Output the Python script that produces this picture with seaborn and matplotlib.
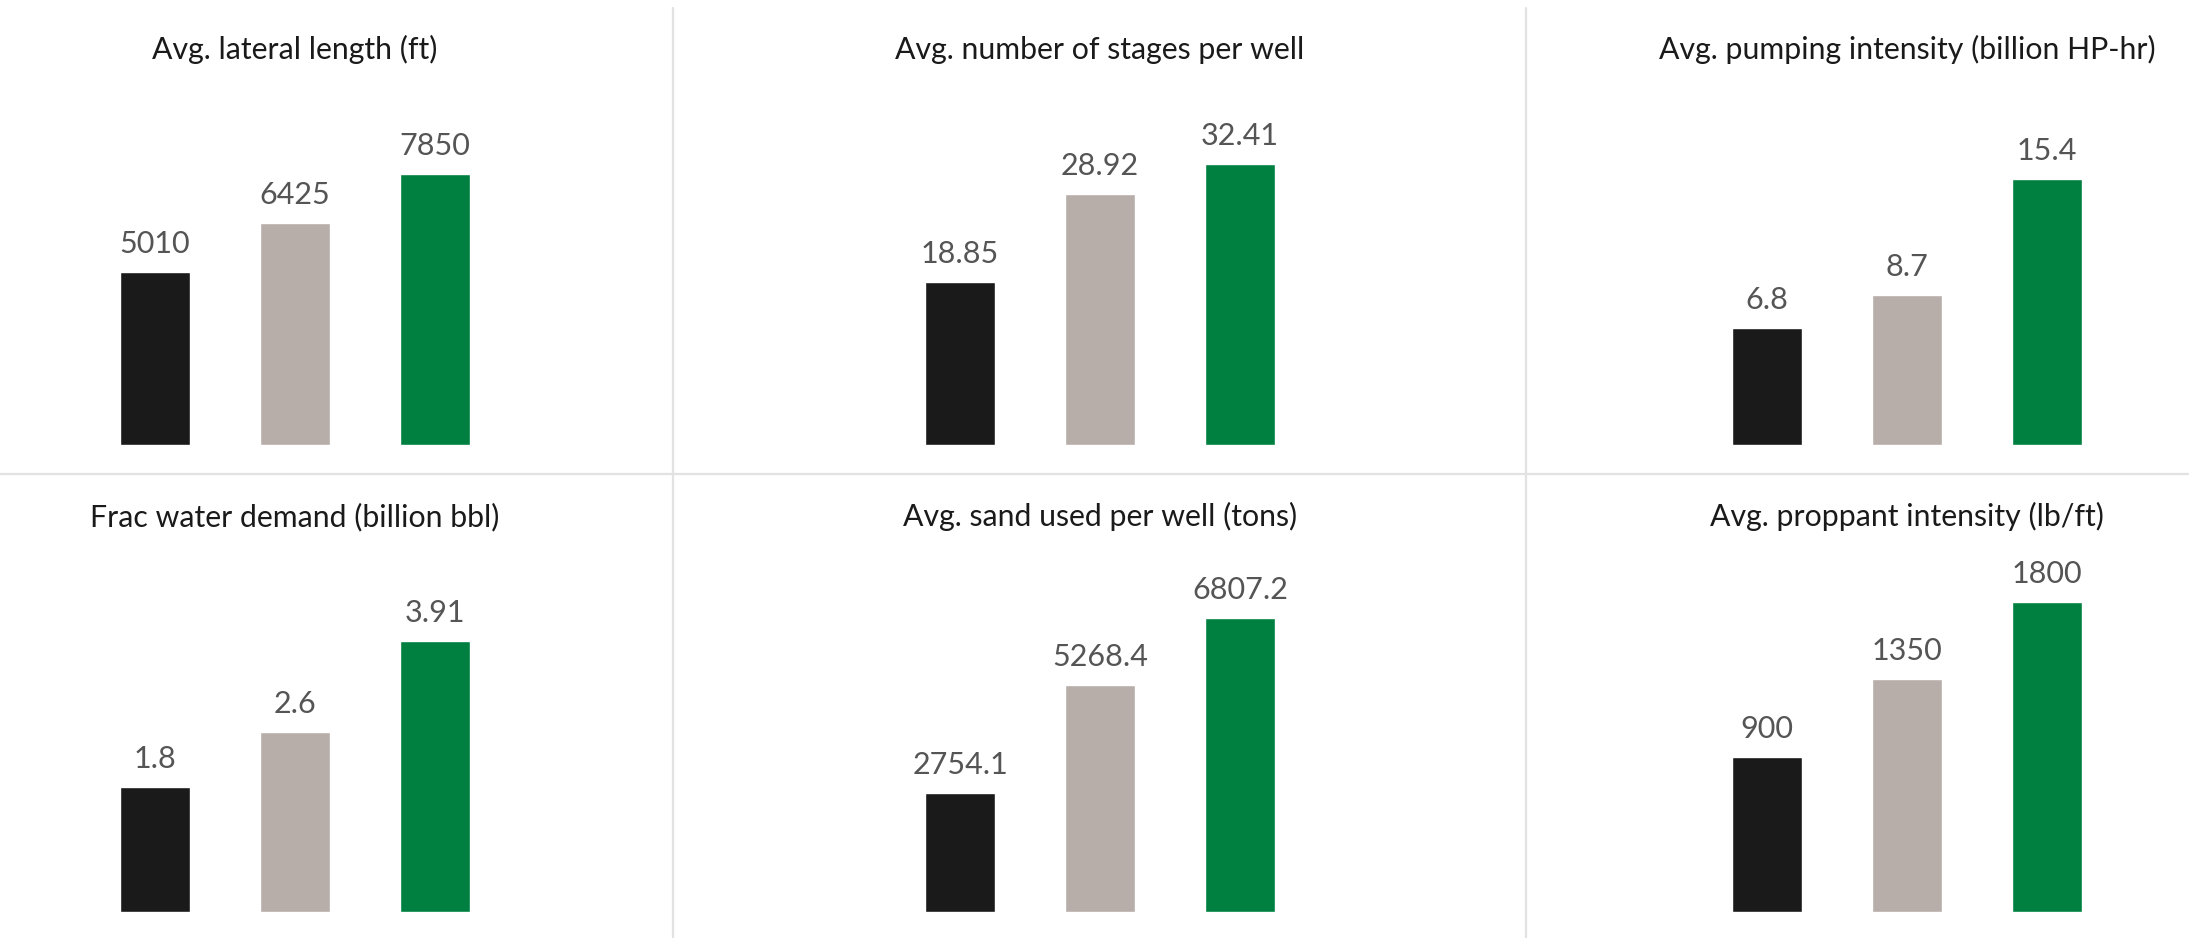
import matplotlib
matplotlib.use("Agg")
import matplotlib.pyplot as plt
from matplotlib.lines import Line2D
import pandas as pd
import seaborn as sns

# ---- data -------------------------------------------------------------
groups = ["Group A", "Group B", "Group C"]

titles = [
    "Avg. lateral length (ft)",
    "Avg. number of stages per well",
    "Avg. pumping intensity (billion HP-hr)",
    "Frac water demand (billion bbl)",
    "Avg. sand used per well (tons)",
    "Avg. proppant intensity (lb/ft)",
]

lateral_length = [5010, 6425, 7850]
stages_per_well = [18.85, 28.92, 32.41]
pumping_intensity = [6.8, 8.7, 15.4]
frac_water_demand = [1.8, 2.6, 3.91]
sand_per_well = [2754.1, 5268.4, 6807.2]
proppant_intensity = [900, 1350, 1800]

panel_values = [
    lateral_length, stages_per_well, pumping_intensity,
    frac_water_demand, sand_per_well, proppant_intensity,
]

# ---- style --------------------------------------------------------------
palette = ["#1a1a1a", "#b7aeaa", "#008040"]
y_limits = [10283, 40.95, 20.59, 5.122, 8233, 2061]

sns.set_theme(style="white")
plt.rcParams["font.family"] = ["Lato", "DejaVu Sans"]

W, H = 2199, 938
fig = plt.figure(figsize=(W / 100, H / 100), dpi=100)

col_centers = [295, 1100, 1907]   # pixel x of the middle bar in each column
row_bases = [445, 912]            # pixel y of the bar baseline in each row
title_baselines = [59, 526]
axes_w, axes_h = 420, 355

for i, (title, vals) in enumerate(zip(titles, panel_values)):
    r, c = divmod(i, 3)
    cx, base = col_centers[c], row_bases[r]
    ax = fig.add_axes([(cx - axes_w / 2) / W, (H - base) / H,
                       axes_w / W, axes_h / H])
    df = pd.DataFrame({"group": groups, "value": vals})
    sns.barplot(data=df, x="group", y="value", hue="group",
                palette=palette, width=0.5, saturation=1,
                legend=False, ax=ax)
    ax.set_xlim(-0.5, 2.5)
    ax.set_ylim(0, y_limits[i])
    ax.axis("off")

    for patch, v in zip(ax.patches, vals):
        ax.annotate(f"{v:g}",
                    xy=(patch.get_x() + patch.get_width() / 2, patch.get_height()),
                    xytext=(0, 13.7), textcoords="offset points",
                    ha="center", va="baseline",
                    fontsize=22, fontweight="normal", color="#555555",
                    annotation_clip=False)

    fig.text(cx / W, 1 - title_baselines[r] / H, title,
             ha="center", va="baseline", fontsize=21.8, color="#1a1a1a")

# ---- panel separators -----------------------------------------------------
sep_color = "#e2e2e2"
for x in (673, 1526):
    fig.add_artist(Line2D([x / W, x / W], [0, 1 - 8 / H],
                          color=sep_color, linewidth=1.6,
                          transform=fig.transFigure))
fig.add_artist(Line2D([0, 2188 / W], [1 - 474 / H, 1 - 474 / H],
                      color=sep_color, linewidth=1.6,
                      transform=fig.transFigure))

fig.savefig("out.png", dpi=100, facecolor="white")
